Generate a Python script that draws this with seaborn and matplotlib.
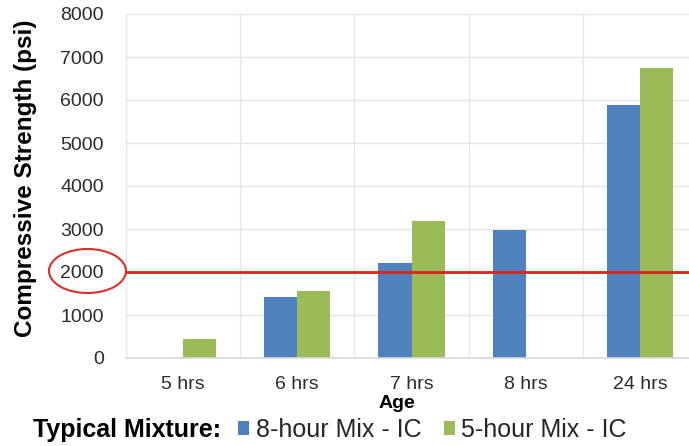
import matplotlib
matplotlib.use("Agg")
import matplotlib.pyplot as plt
from matplotlib.patches import Ellipse
import seaborn as sns
import pandas as pd

ages = ["5 hrs", "6 hrs", "7 hrs", "8 hrs", "24 hrs"]
mixes = ["8-hour Mix - IC", "5-hour Mix - IC"]
strength_8h = [None, 1410, 2220, 2980, 5880]
strength_5h = [450, 1560, 3180, None, 6740]
threshold = 2000
y_ticks = [0, 1000, 2000, 3000, 4000, 5000, 6000, 7000, 8000]

rows = []
for mix, vals in zip(mixes, [strength_8h, strength_5h]):
    for age, v in zip(ages, vals):
        if v is not None:
            rows.append({"Age": age, "Mixture": mix, "Strength": v})
df = pd.DataFrame(rows)

sns.set_theme(style="white")
plt.rcParams["font.family"] = ["Liberation Sans", "DejaVu Sans"]

fig = plt.figure(figsize=(6.89, 4.46), dpi=100)
ax = fig.add_axes([126 / 689, 88 / 446, 571 / 689, 344 / 446])

sns.barplot(data=df, x="Age", y="Strength", hue="Mixture", order=ages,
            hue_order=mixes, palette=["#4f81bd", "#9bbb59"], width=0.58,
            gap=0, saturation=1, linewidth=0, ax=ax, legend=True)

ax.set_ylim(0, 8000)
ax.set_xlim(-0.5, len(ages) - 0.5)
ax.set_yticks(y_ticks)
ax.set_xticks(range(len(ages)))
ax.set_xticklabels(ages)
ax.grid(False)
ax.yaxis.grid(True, color="#e6e6e6", linewidth=1)
ax.set_axisbelow(True)
for side in ["top", "right", "left"]:
    ax.spines[side].set_visible(False)
ax.spines["bottom"].set_color("#d9d9d9")
ax.tick_params(axis="both", length=0, labelsize=14, colors="#2b2b2b")
ax.tick_params(axis="y", pad=16)
ax.tick_params(axis="x", pad=13)
ax.set_xlabel("")
ax.set_ylabel("")

# vertical separators between age groups
for xb in [i - 0.5 for i in range(len(ages) + 1)]:
    ax.axvline(xb, color="#e6e6e6", linewidth=1, zorder=0)

# required strength line and highlight on the axis value
ax.axhline(threshold, color="#e0211d", linewidth=2, zorder=5)
fig.add_artist(Ellipse((87.5 / 689, 1 - 271 / 446), 77 / 689, 44 / 446,
                       transform=fig.transFigure, fill=False,
                       edgecolor="#d9302c", linewidth=1.5))

fig.text(26 / 689, 1 - 178 / 446, "Compressive Strength (psi)", rotation=90,
         ha="center", va="center", fontsize=17.5, fontweight="bold", color="black")
fig.text(397 / 689, 1 - 403 / 446, "Age", ha="center", va="center",
         fontsize=14, fontweight="bold", color="black")
fig.text(33 / 689, 1 - 430 / 446, "Typical Mixture:", ha="left", va="center",
         fontsize=18, fontweight="bold", color="black")

handles, labels = ax.get_legend_handles_labels()
ax.get_legend().remove()
fig.legend(handles, labels, loc="center left", bbox_to_anchor=(238 / 689, 1 - 430 / 446),
           ncol=2, frameon=False, fontsize=18, handlelength=0.45, handleheight=0.45,
           handletextpad=0.25, columnspacing=0.9, borderaxespad=0, borderpad=0)

fig.savefig("out.png", dpi=100)
